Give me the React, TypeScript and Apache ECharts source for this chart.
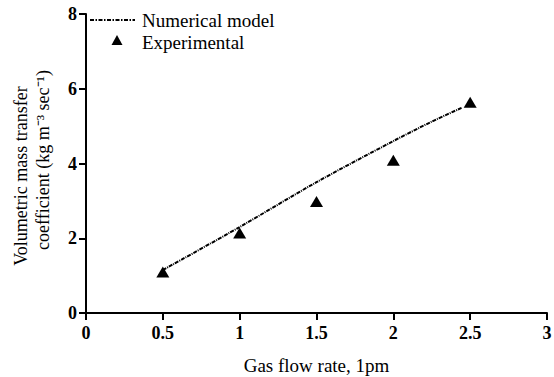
import React, { useEffect, useRef } from "react";
import * as echarts from "echarts";

const modelX = [0.5, 1.0, 1.5, 2.0, 2.25, 2.45];
const modelY = [1.15, 2.3, 3.5, 4.6, 5.12, 5.5];
const expX = [0.5, 1.0, 1.5, 2.0, 2.5];
const expY = [1.1, 2.14, 2.98, 4.09, 5.64];
const xTicks = [0, 0.5, 1, 1.5, 2, 2.5, 3];
const yTicks = [0, 2, 4, 6, 8];
const legendNames = ["Numerical model", "Experimental"];
const yTitle = ["Volumetric mass transfer", "coefficient (kg m\u207B\u00B3 sec\u207B\u00B9)"];
const xTitle = "Gas flow rate, 1pm";

const FONT = "Liberation Serif";

export default function App() {
  const ref = useRef<HTMLDivElement>(null);
  useEffect(() => {
    if (!ref.current) return;
    const chart = echarts.init(ref.current, undefined, { renderer: "svg" });
    chart.setOption({
      animation: false,
      backgroundColor: "#fff",
      textStyle: { fontFamily: FONT, color: "#000" },
      grid: { left: 86, right: 7, top: 14, bottom: 64, outerBoundsMode: "none", containLabel: false },
      xAxis: {
        type: "value",
        min: 0,
        max: 3,
        interval: 0.5,
        name: xTitle,
        nameLocation: "middle",
        nameGap: 43,
        nameTextStyle: { fontFamily: FONT, fontSize: 19, color: "#000" },
        axisLine: { onZero: false, lineStyle: { color: "#000", width: 2 } },
        axisTick: { show: true, length: 7, lineStyle: { color: "#000", width: 2 } },
        axisLabel: {
          fontFamily: FONT,
          fontSize: 18,
          fontWeight: "bold",
          color: "#000",
          margin: 11,
          formatter: (v: number) => (xTicks.includes(v) ? String(v) : ""),
        },
        splitLine: { show: false },
      },
      yAxis: {
        type: "value",
        min: 0,
        max: 8,
        interval: 2,
        axisLine: { lineStyle: { color: "#000", width: 2 } },
        axisTick: { show: true, length: 7, lineStyle: { color: "#000", width: 2 } },
        axisLabel: {
          fontFamily: FONT,
          fontSize: 18,
          fontWeight: "bold",
          color: "#000",
          margin: 9,
          formatter: (v: number) => (yTicks.includes(v) ? String(v) : ""),
        },
        splitLine: { show: false },
      },
      graphic: [
        {
          type: "line",
          shape: { x1: 90, y1: 20, x2: 135, y2: 20 },
          style: { stroke: "#000", lineWidth: 2, lineDash: [4, 1.5, 1.5, 1.5] },
        },
        {
          type: "polygon",
          shape: { points: [[117, 35], [111.5, 45], [122.5, 45]] },
          style: { fill: "#000" },
        },
        {
          type: "text",
          x: 142,
          y: 20,
          style: { text: legendNames[0], font: `19px ${FONT}`, fill: "#000", textVerticalAlign: "middle" },
        },
        {
          type: "text",
          x: 142,
          y: 42,
          style: { text: legendNames[1], font: `19px ${FONT}`, fill: "#000", textVerticalAlign: "middle" },
        },
        {
          type: "text",
          x: 21,
          y: 176,
          rotation: Math.PI / 2,
          style: { text: yTitle[0], font: `18px ${FONT}`, fill: "#000", textAlign: "center", textVerticalAlign: "middle" },
        },
        {
          type: "text",
          x: 43,
          y: 160,
          rotation: Math.PI / 2,
          style: { text: yTitle[1], font: `18px ${FONT}`, fill: "#000", textAlign: "center", textVerticalAlign: "middle" },
        },
      ],
      series: [
        {
          name: legendNames[0],
          type: "line",
          data: modelX.map((x, i) => [x, modelY[i]]),
          symbol: "none",
          smooth: 0.3,
          lineStyle: { color: "#000", width: 2, type: [4, 1, 1, 1] },
          itemStyle: { color: "#000" },
          z: 2,
        },
        {
          name: legendNames[1],
          type: "scatter",
          data: expX.map((x, i) => [x, expY[i]]),
          symbol: "triangle",
          symbolSize: [13, 11],
          itemStyle: { color: "#000", opacity: 1 },
          z: 3,
        },
      ],
    });
    return () => chart.dispose();
  }, []);
  return <div ref={ref} style={{ width: 554, height: 377, position: "absolute", left: 0, top: 0 }} />;
}
